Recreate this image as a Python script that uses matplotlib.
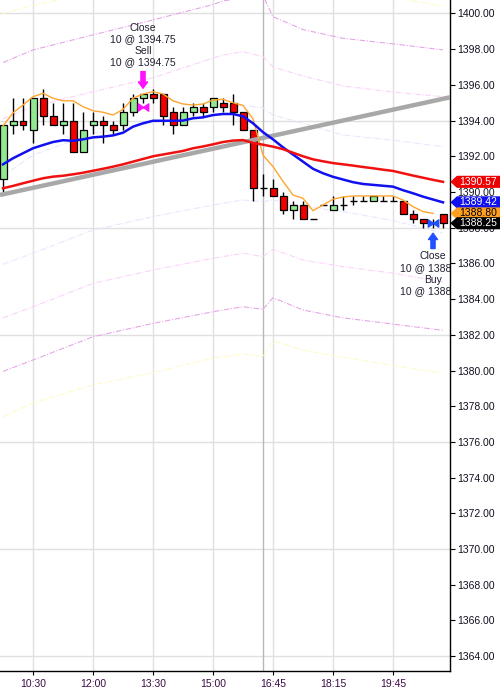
import numpy as np
import matplotlib
matplotlib.use('Agg')
import matplotlib.pyplot as plt
from matplotlib.path import Path
from matplotlib.patches import Polygon

plt.rcParams['font.family'] = ['Liberation Sans', 'DejaVu Sans']

# 15 min bars, index 0 = 09:45 (session gap after 16:00)
bar_open = [1390.75, 1393.75, 1394.0, 1393.5, 1395.25, 1394.25, 1393.75, 1394.0, 1392.25, 1393.75,
            1394.0, 1393.75, 1393.75, 1394.5, 1395.25, 1395.5, 1395.5, 1394.5, 1393.75, 1394.5,
            1394.75, 1394.75, 1395.0, 1395.0, 1394.5, 1393.5, 1390.25, 1390.25, 1389.75, 1389.0,
            1389.25, 1388.5, 1389.25, 1389.0, 1389.25, 1389.5, 1389.5, 1389.5, 1389.5, 1389.5,
            1389.5, 1388.75, 1388.5, 1388.25, 1388.75]
bar_high = [1393.75, 1395.25, 1395.25, 1395.25, 1395.75, 1395.0, 1395.0, 1395.0, 1394.5, 1394.5,
            1394.25, 1394.0, 1395.0, 1395.5, 1395.5, 1395.75, 1395.5, 1394.75, 1394.75, 1395.0,
            1395.0, 1395.25, 1395.25, 1395.5, 1394.5, 1393.5, 1391.0, 1390.75, 1390.0, 1389.5,
            1389.5, 1388.5, 1389.25, 1389.75, 1389.75, 1389.75, 1389.75, 1389.75, 1389.75, 1389.75,
            1389.5, 1389.0, 1388.5, 1388.5, 1388.75]
bar_low = [1390.0, 1393.25, 1393.5, 1392.75, 1393.75, 1393.75, 1393.25, 1392.25, 1392.25, 1393.25,
           1392.75, 1393.25, 1393.5, 1394.25, 1395.0, 1395.0, 1393.75, 1393.25, 1393.75, 1394.25,
           1394.25, 1394.5, 1394.5, 1393.75, 1393.5, 1389.5, 1389.75, 1389.75, 1388.75, 1388.5,
           1388.5, 1388.5, 1389.25, 1389.0, 1389.0, 1389.25, 1389.5, 1389.5, 1389.5, 1389.5,
           1388.75, 1388.25, 1388.0, 1388.0, 1388.0]
bar_close = [1393.75, 1394.0, 1393.75, 1395.25, 1394.25, 1393.75, 1394.0, 1392.25, 1393.5, 1394.0,
             1393.75, 1393.5, 1394.5, 1395.25, 1395.5, 1395.25, 1394.25, 1393.75, 1394.5, 1394.75,
             1394.5, 1395.25, 1394.75, 1394.5, 1393.5, 1390.25, 1390.25, 1389.75, 1389.0, 1389.25,
             1388.5, 1388.5, 1389.25, 1389.25, 1389.25, 1389.5, 1389.5, 1389.75, 1389.5, 1389.5,
             1388.75, 1388.5, 1388.25, 1388.25, 1388.25]

ma_fast = [1393.7, 1394.43, 1394.87, 1395.34, 1395.53, 1395.25, 1395.11, 1395.11, 1394.78, 1394.55,
           1394.47, 1394.31, 1394.63, 1395.25, 1395.49, 1395.62, 1395.49, 1395.11, 1394.93, 1394.87,
           1394.93, 1395.15, 1395.19, 1395.0, 1394.85, 1394.1, 1392.07, 1391.42, 1390.6, 1389.83,
           1389.65, 1388.95, 1389.27, 1389.6, 1389.72, 1389.78, 1389.78, 1389.78, 1389.78, 1389.78,
           1389.55, 1389.18, 1388.9, 1388.8]
ma_mid = [1391.55, 1391.89, 1392.17, 1392.45, 1392.63, 1392.8, 1392.9, 1392.87, 1392.95, 1393.06,
          1393.1, 1393.17, 1393.32, 1393.66, 1393.85, 1393.99, 1393.99, 1393.99, 1394.0, 1394.13,
          1394.18, 1394.31, 1394.37, 1394.37, 1394.24, 1393.85, 1393.35, 1392.95, 1392.5, 1392.1,
          1391.7, 1391.3, 1391.05, 1390.85, 1390.7, 1390.55, 1390.45, 1390.4, 1390.35, 1390.3,
          1390.1, 1389.93, 1389.74, 1389.58, 1389.42]
ma_slow = [1390.21, 1390.34, 1390.49, 1390.63, 1390.77, 1390.86, 1390.91, 1390.99, 1391.08, 1391.19,
           1391.3, 1391.42, 1391.55, 1391.7, 1391.85, 1392.0, 1392.1, 1392.2, 1392.3, 1392.45,
           1392.55, 1392.67, 1392.8, 1392.88, 1392.91, 1392.75, 1392.65, 1392.54, 1392.4, 1392.2,
           1392.0, 1391.83, 1391.72, 1391.62, 1391.55, 1391.48, 1391.4, 1391.33, 1391.25, 1391.18,
           1391.05, 1390.92, 1390.8, 1390.68, 1390.57]

# envelope bands, read at a few bars
band_bars = [0, 3, 9, 15, 21, 22, 24, 26, 27, 30, 34, 39, 44]
band_up4 = [1400.0, 1400.45, 1401.2, 1401.9, 1402.6, 1402.8, 1403.0, 1403.0, 1402.3, 1401.8, 1401.4, 1400.9, 1400.4]
band_up3 = [1397.25, 1397.96, 1398.8, 1399.64, 1400.5, 1400.7, 1400.9, 1401.0, 1399.82, 1399.1, 1398.61, 1398.3, 1397.96]
band_up2 = [1394.1, 1394.78, 1395.62, 1396.4, 1397.5, 1397.68, 1397.86, 1397.58, 1397.0, 1396.5, 1395.94, 1395.6, 1395.34]
band_up1 = [1390.9, 1392.07, 1393.29, 1393.85, 1394.55, 1394.7, 1394.87, 1394.7, 1394.31, 1393.85, 1393.19, 1392.9, 1392.54]
band_lo1 = [1385.95, 1386.57, 1387.87, 1388.62, 1389.27, 1389.37, 1389.55, 1389.46, 1389.55, 1389.2, 1388.9, 1388.4, 1387.7]
band_lo2 = [1382.95, 1383.57, 1384.88, 1385.63, 1386.29, 1386.38, 1386.57, 1386.38, 1386.79, 1386.19, 1385.82, 1385.45, 1384.96]
band_lo3 = [1379.95, 1380.59, 1381.89, 1382.64, 1383.29, 1383.39, 1383.57, 1383.43, 1384.08, 1383.39, 1382.95, 1382.6, 1382.25]
band_lo4 = [1377.4, 1378.19, 1379.19, 1379.88, 1380.69, 1380.77, 1380.92, 1380.77, 1381.67, 1381.15, 1380.75, 1380.28, 1379.84]

trend_bars = [0, 44]
trend_prices = [1389.87, 1395.22]

time_label_bars = [3, 9, 15, 21, 27, 33, 39]
time_labels = ['10:30', '12:00', '13:30', '15:00', '16:45', '18:15', '19:45']
session_break_bar = 26

trade_bars = [14, 43]
trade_prices = [1394.75, 1388.25]
trade_side = ['Sell', 'Buy']
trade_qty = 10

x = np.arange(len(bar_open))
o = np.array(bar_open); h = np.array(bar_high); l = np.array(bar_low); c = np.array(bar_close)

fig = plt.figure(figsize=(5, 6.92), dpi=100)
ax = fig.add_axes([0, 21 / 692, 450 / 500, 671 / 692])
ax.set_xlim(-0.3, 44.7)
ax.set_ylim(1363.166, 1400.756)

# grid
for lvl in np.arange(1364, 1401, 6):
    ax.axhline(lvl, color='#e0e0e0', lw=1, zorder=0)
for b in time_label_bars:
    ax.axvline(b, color='#e0e0e0', lw=1, zorder=0)
ax.axvline(session_break_bar, color='#b8b8b8', lw=1, zorder=0.5)

# bands
ds = (0, (5, 1.5, 1, 1.5))
ax.plot(band_bars, band_up4, color='#fffac8', lw=0.8, ls=ds, zorder=1)
ax.plot(band_bars, band_lo4, color='#fffac8', lw=0.8, ls=ds, zorder=1)
ax.plot(band_bars, band_up3, color='#e6a6e6', lw=0.8, ls=ds, zorder=1)
ax.plot(band_bars, band_lo3, color='#e6a6e6', lw=0.8, ls=ds, zorder=1)
ax.plot(band_bars, band_up2, color='#fcd2fc', lw=0.8, ls=ds, zorder=1)
ax.plot(band_bars, band_lo2, color='#fcd2fc', lw=0.8, ls=ds, zorder=1)
ax.plot(band_bars, band_up1, color='#e6e6ff', lw=0.8, ls=ds, zorder=1)
ax.plot(band_bars, band_lo1, color='#e6e6ff', lw=0.8, ls=ds, zorder=1)

# candles
ax.vlines(x, l, h, color='black', lw=1, zorder=2)
flat = c == o
up = c > o
body_col = np.where(up, '#90e890', '#ee0000')
ax.bar(x[~flat], np.abs(c - o)[~flat], bottom=np.minimum(o, c)[~flat], width=0.7,
       color=body_col[~flat], edgecolor='black', linewidth=0.9, zorder=3)
ax.hlines(c[flat], x[flat] - 0.35, x[flat] + 0.35, color='black', lw=1, zorder=3)

# trend line
ax.axline((trend_bars[0], trend_prices[0]), (trend_bars[1], trend_prices[1]),
          color='#a8a8a8', lw=3.2, zorder=4, solid_capstyle='butt')

# moving averages
ax.plot(x[:len(ma_fast)], ma_fast, color='#ffa530', lw=1, zorder=5)
ax.plot(x, ma_mid, color='#1010f0', lw=1.8, zorder=5)
ax.plot(x, ma_slow, color='#f01010', lw=1.8, zorder=5)

# executions
bow = Path([(-1, 0.7), (0, 0), (-1, -0.7), (-1, 0.7), (1, 0.7), (0, 0), (1, -0.7), (1, 0.7)],
           [Path.MOVETO, Path.LINETO, Path.LINETO, Path.CLOSEPOLY,
            Path.MOVETO, Path.LINETO, Path.LINETO, Path.CLOSEPOLY])
for b, p, side in zip(trade_bars, trade_prices, trade_side):
    col = '#ff10ff' if side == 'Sell' else '#2050ff'
    ax.plot(b, p, marker=bow, ms=7.5, color=col, mec=col, ls='none', zorder=6)
    txt = 'Close\n%d @ %.2f\n%s\n%d @ %.2f' % (trade_qty, p, side, trade_qty, p)
    aprops = dict(arrowstyle='simple,head_length=0.45,head_width=0.65,tail_width=0.3',
                  color=col, shrinkA=0, shrinkB=4, mutation_scale=10)
    if side == 'Sell':
        ax.annotate('', xy=(b, h[b]), xytext=(0, 16), textcoords='offset points',
                    arrowprops=aprops, zorder=6)
        t = ax.annotate(txt, xy=(b, h[b]), xytext=(0, 19), textcoords='offset points',
                        ha='center', va='bottom', fontsize=7.5, color='#202030', zorder=6)
    else:
        ax.annotate('', xy=(b, l[b]), xytext=(0, -15), textcoords='offset points',
                    arrowprops=aprops, zorder=6)
        t = ax.annotate(txt, xy=(b, l[b]), xytext=(0, -17), textcoords='offset points',
                        ha='center', va='top', fontsize=7.5, color='#202030', zorder=6)
    t.set_clip_on(True)
    t.set_clip_box(ax.bbox)

# axes styling
ax.spines['left'].set_visible(False)
ax.spines['top'].set_visible(False)
ax.spines['right'].set_linewidth(1)
ax.spines['bottom'].set_linewidth(1)
ax.yaxis.tick_right()
ax.set_yticks(np.arange(1364, 1401, 2))
ax.set_yticklabels(['%.2f' % v for v in np.arange(1364, 1401, 2)])
ax.tick_params(axis='y', length=3.6, width=0.8, pad=1.5, labelsize=7.5, labelcolor='#101020')
ax.set_xticks(time_label_bars)
ax.set_xticklabels(time_labels)
ax.tick_params(axis='x', length=3, width=0.8, pad=3, labelsize=7.5, labelcolor='#3c0a46')

# last value tags
ytr = ax.get_yaxis_transform()
tags = [(ma_slow[-1], '#ee0000', 'white'), (ma_mid[-1], '#1010f0', 'white'),
        (ma_fast[-1], '#ffa020', 'black'), (bar_close[-1], 'black', 'white')]
for i, (v, fc, tc) in enumerate(tags):
    hh = 0.3
    ax.add_patch(Polygon([(1.003, v), (1.016, v + hh), (1.12, v + hh), (1.12, v - hh), (1.016, v - hh)],
                         closed=True, transform=ytr, facecolor=fc, edgecolor=fc,
                         clip_on=False, zorder=10 + i))
    ax.text(1.021, v, '%.2f' % v, transform=ytr, ha='left', va='center', fontsize=7.5,
            color=tc, clip_on=False, zorder=10.5 + i)

fig.savefig('out.png', dpi=100, facecolor='white')
